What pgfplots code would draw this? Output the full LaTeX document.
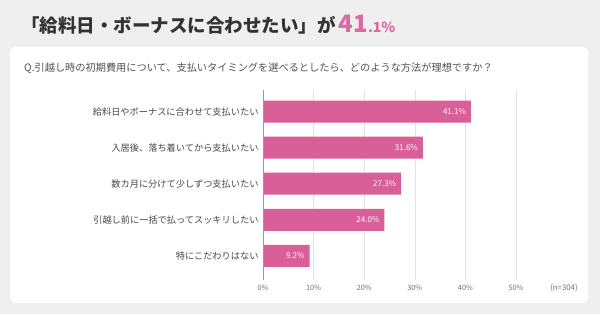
\documentclass[border=0pt]{standalone}
\usepackage{pgfplots}
\pgfplotsset{compat=1.18}
\usepackage{fontspec}
\setmainfont{Noto Sans CJK JP}
\definecolor{bg}{HTML}{EFEFEF}
\definecolor{barpink}{HTML}{D95F98}
\definecolor{titlepink}{HTML}{DC6A9E}
\definecolor{txt}{HTML}{333333}
\definecolor{gridc}{HTML}{E2E2E2}
\begin{document}
\begin{tikzpicture}
\useasboundingbox (0,0) rectangle (600pt,314pt);
\fill[bg] (0,0) rectangle (600pt,314pt);
\fill[white, rounded corners=6pt] (10pt,11pt) rectangle (588pt,267pt);
\node[anchor=base west, inner sep=0pt, text=txt, font=\fontsize{18.5}{22}\selectfont\bfseries] at (21pt,281pt)
  {「給料日・ボーナスに合わせたい」が\,{\color{titlepink}\fontsize{24}{26}\selectfont 41}{\color{titlepink}\fontsize{14}{16}\selectfont .1\%}};
\node[anchor=west, inner sep=0pt, text=txt!85, font=\fontsize{10.2}{12}\selectfont] at (24pt,246pt)
  {Q.引越し時の初期費用について、支払いタイミングを選べるとしたら、どのような方法が理想ですか？};
\begin{axis}[
  at={(263pt,34pt)}, anchor=south west,
  scale only axis, width=253pt, height=190pt,
  xbar, bar width=22pt,
  xmin=0, xmax=50,
  ymin=-0.6, ymax=4.67, y dir=reverse,
  ytick={0,1,2,3,4},
  yticklabels={給料日やボーナスに合わせて支払いたい,入居後、落ち着いてから支払いたい,数カ月に分けて少しずつ支払いたい,引越し前に一括で払ってスッキリしたい,特にこだわりはない},
  xtick={0,10,20,30,40,50},
  xticklabels={0\%,10\%,20\%,30\%,40\%,50\%},
  major tick length=0pt,
  axis line style={draw=none},
  xmajorgrids, grid style={gridc, line width=0.6pt},
  yticklabel style={font=\fontsize{9.2}{11}\selectfont, text=txt!90, xshift=-1pt},
  xticklabel style={font=\fontsize{7.3}{8}\selectfont, text=txt!70, yshift=-2pt},
  /pgf/number format/assume math mode=true,
  nodes near coords={\pgfmathprintnumber[fixed,fixed zerofill,precision=1]{\pgfplotspointmeta}\%},
  point meta=x,
  every node near coord/.append style={anchor=east, text=white, font=\fontsize{8}{9}\selectfont, xshift=-1.5pt},
  clip=false,
]
\addplot[fill=barpink, draw=none] coordinates {(41.1,0) (31.6,1) (27.3,2) (24.0,3) (9.2,4)};
\draw[gray!80, line width=0.8pt] (axis cs:0,-0.6) -- (axis cs:0,4.67);
\end{axis}
\node[text=txt!70, font=\fontsize{7.8}{9}\selectfont] at (564pt,26pt) {(n=304)};
\end{tikzpicture}
\end{document}
